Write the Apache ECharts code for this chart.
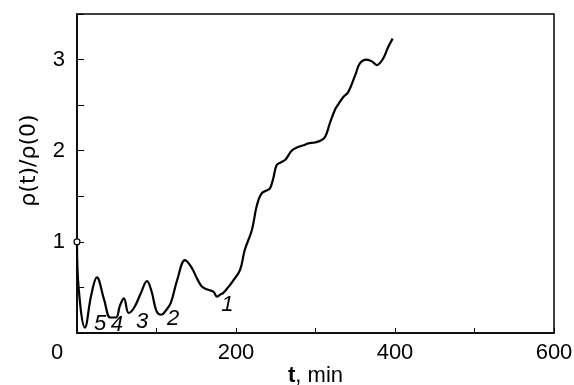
<!DOCTYPE html>
<html><head><meta charset="utf-8">
<script src="https://cdn.jsdelivr.net/npm/echarts@6/dist/echarts.min.js"></script>
<style>html,body{margin:0;padding:0;background:#fff}#c{width:574px;height:385px}</style>
</head><body><div id="c"></div>
<script>
var tValues = [0, 2, 10, 18, 25, 34, 42, 49, 54, 59, 65, 72, 80, 88, 94, 100, 106, 112, 118, 126, 136, 144, 152, 157, 163, 167, 172, 176, 180, 184, 190, 196, 205, 211, 220, 226, 232, 240, 243, 247, 251, 256, 262, 270, 278, 285, 291, 299, 306, 312, 318, 325, 328, 335, 341, 350, 356, 364, 371, 377, 385, 391, 397];
var rhoValues = [1.0, 0.5, 0.06, 0.42, 0.61, 0.37, 0.17, 0.17, 0.3, 0.38, 0.22, 0.28, 0.43, 0.57, 0.45, 0.24, 0.2, 0.25, 0.33, 0.58, 0.8, 0.72, 0.58, 0.51, 0.48, 0.47, 0.45, 0.40, 0.42, 0.44, 0.5, 0.57, 0.69, 0.91, 1.13, 1.39, 1.53, 1.57, 1.59, 1.70, 1.84, 1.87, 1.90, 2.0, 2.04, 2.06, 2.08, 2.09, 2.11, 2.15, 2.3, 2.46, 2.5, 2.59, 2.64, 2.83, 2.96, 3.0, 2.98, 2.94, 3.01, 3.13, 3.23];
var curveLabels = ['5', '4', '3', '2', '1'];
var labelT = [29, 50, 82, 121, 189];
var labelRho = [0.10, 0.09, 0.12, 0.15, 0.31];
var xTicks = [0, 200, 400, 600];
var yTicks = [1, 2, 3];

var lineData = tValues.map(function (t, i) { return [t, rhoValues[i]]; });
var labelData = curveLabels.map(function (s, i) { return { value: [labelT[i], labelRho[i]], name: s }; });

var chart = echarts.init(document.getElementById('c'));
var font = 'Liberation Sans, Arial, sans-serif';
chart.setOption({
  animation: false,
  grid: { left: 77, right: 20, top: 14, bottom: 52, show: true, borderColor: '#000', borderWidth: 1.5,
    containLabel: false, outerBoundsMode: 'none' },
  xAxis: {
    type: 'value', min: 0, max: 600, interval: 100,
    axisLine: { show: true, lineStyle: { color: '#000', width: 1.5 } },
    axisTick: { inside: true, length: 5, lineStyle: { color: '#000' } },
    splitLine: { show: false },
    axisLabel: {
      margin: 9, color: '#000', fontSize: 22, fontFamily: font,
      formatter: function (v) {
        if (v === 0) return '{z|0}';
        return xTicks.indexOf(v) >= 0 ? String(v) : '';
      },
      rich: { z: { fontSize: 22, fontFamily: font, color: '#000', padding: [0, 40, 0, 0] } }
    },
    name: '{b|t}, min', nameLocation: 'middle', nameGap: 32, nameMoveOverlap: false,
    nameTextStyle: { color: '#000', fontSize: 22, fontFamily: font,
      rich: { b: { fontWeight: 'bold', fontSize: 22, fontFamily: font, color: '#000' } } }
  },
  yAxis: {
    type: 'value', min: 0, max: 3.5, interval: 0.5,
    axisLine: { show: true, lineStyle: { color: '#000', width: 1.5 } },
    axisTick: { inside: true, length: 7, lineStyle: { color: '#000' } },
    splitLine: { show: false },
    axisLabel: {
      margin: 12, color: '#000', fontSize: 22, fontFamily: font,
      formatter: function (v) { return yTicks.indexOf(v) >= 0 ? String(v) : ''; }
    },
    name: 'ρ(t)/ρ(0)', nameLocation: 'middle', nameGap: 37, nameMoveOverlap: false,
    nameTextStyle: { color: '#000', fontSize: 22, fontFamily: 'DejaVu Sans, sans-serif', padding: [0, 0, 0, 26] }
  },
  series: [
    {
      type: 'line', data: lineData, smooth: 0.4, showSymbol: false,
      lineStyle: { color: '#000', width: 2.2 }, z: 3,
      markPoint: {
        symbol: 'circle', symbolSize: 6,
        itemStyle: { color: '#fff', borderColor: '#000', borderWidth: 1.2 },
        label: { show: false },
        data: [{ coord: lineData[0] }]
      }
    },
    {
      type: 'scatter', data: labelData, symbolSize: 0,
      itemStyle: { color: '#000', opacity: 1 },
      label: { show: true, position: 'inside', formatter: '{b}', color: '#000', opacity: 1,
        textBorderWidth: 0, fontSize: 22, fontStyle: 'italic', fontFamily: font }
    }
  ]
});
</script></body></html>
